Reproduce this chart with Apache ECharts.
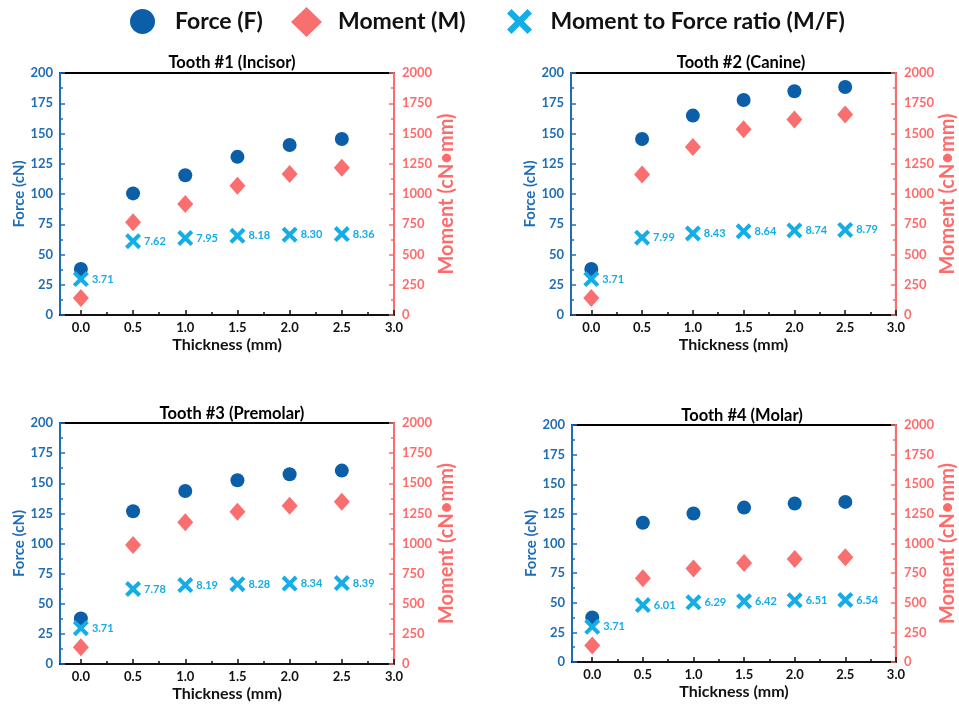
<!DOCTYPE html>
<html><head><meta charset="utf-8">
<script src="https://cdn.jsdelivr.net/npm/echarts@6/dist/echarts.min.js"></script>
<style>html,body{margin:0;padding:0;background:#fff}#c{width:959px;height:705px}</style>
</head><body><div id="c"></div>
<script>
const thickness = [0, 0.5, 1.0, 1.5, 2.0, 2.5];
const titles = ['Tooth #1 (Incisor)', 'Tooth #2 (Canine)', 'Tooth #3 (Premolar)', 'Tooth #4 (Molar)'];
const force1 = [38, 100.5, 115.5, 130.7, 140.5, 145.5];
const moment1 = [141, 766, 918, 1069, 1166, 1216];
const ratio1 = [3.71, 7.62, 7.95, 8.18, 8.30, 8.36];
const force2 = [38, 145.5, 164.8, 177.7, 184.9, 188.4];
const moment2 = [141, 1162, 1388, 1535, 1616, 1656];
const ratio2 = [3.71, 7.99, 8.43, 8.64, 8.74, 8.79];
const force3 = [37.8, 126.8, 143.6, 152.5, 157.5, 160.5];
const moment3 = [140, 987, 1176, 1263, 1313, 1347];
const ratio3 = [3.71, 7.78, 8.19, 8.28, 8.34, 8.39];
const force4 = [37.6, 117.5, 125.3, 130.3, 133.7, 135.1];
const moment4 = [139, 707, 789, 836, 870, 885];
const ratio4 = [3.71, 6.01, 6.29, 6.42, 6.51, 6.54];
const xMajor = [0, 0.5, 1.0, 1.5, 2.0, 2.5, 3.0];
const xMinor = [0.25, 0.75, 1.25, 1.75, 2.25, 2.75];
const seriesNames = ['Force (F)', 'Moment (M)', 'Moment to Force ratio (M/F)'];

const forces = [force1, force2, force3, force4];
const moments = [moment1, moment2, moment3, moment4];
const ratios = [ratio1, ratio2, ratio3, ratio4];

const FONT = 'Lato';
const cForce = '#0b5ea8', cAxisL = '#1f6db5', cMoment = '#f96f6f', cAxisR = '#ff6b6b', cRatio = '#14ade6';
const xPath = 'path://M0,1.8 L1.8,0 L5,3.2 L8.2,0 L10,1.8 L6.8,5 L10,8.2 L8.2,10 L5,6.8 L1.8,10 L0,8.2 L3.2,5 Z';

const gridPos = [
  {left: 60, right: 565, top: 73, bottom: 390},
  {left: 571, right: 57, top: 73, bottom: 390},
  {left: 60, right: 565, top: 423, bottom: 41},
  {left: 572, right: 56, top: 425, bottom: 43}
];
const titlePos = [[227, 49], [736, 49], [227, 400], [737, 402]];

const grid = [], xAxis = [], yAxis = [], series = [], title = [];
gridPos.forEach((g, i) => {
  grid.push(Object.assign({show: true, borderColor: '#000', borderWidth: 2, backgroundColor: 'transparent', containLabel: false}, g));
  title.push({text: titles[i], left: titlePos[i][0], top: titlePos[i][1], textAlign: 'center',
    textStyle: {fontFamily: FONT, fontWeight: 'bold', fontSize: 16.5, color: '#000'}});
  xAxis.push({type: 'value', gridIndex: i, min: -0.2, max: 3.0, position: 'bottom',
    name: 'Thickness (mm)', nameLocation: 'middle', nameGap: 22,
    nameTextStyle: {fontFamily: FONT, fontWeight: 'bold', fontSize: 16, color: '#111'},
    axisLine: {show: true, lineStyle: {color: '#111', width: 2}},
    axisTick: {show: true, inside: true, length: 5, customValues: xMajor, lineStyle: {color: '#111', width: 1.5}},
    axisLabel: {customValues: xMajor, formatter: v => v.toFixed(1), fontFamily: FONT, fontWeight: 'bold', fontSize: 13, color: '#111', margin: 6},
    splitLine: {show: false}});
  xAxis.push({type: 'value', gridIndex: i, min: -0.2, max: 3.0, position: 'bottom',
    axisLine: {show: false},
    axisTick: {show: true, inside: true, length: 3, customValues: xMinor, lineStyle: {color: '#111', width: 1.5}},
    axisLabel: {show: false}, splitLine: {show: false}});
  yAxis.push({type: 'value', gridIndex: i, min: 0, max: 200, interval: 25, position: 'left',
    name: 'Force (cN)', nameLocation: 'middle', nameGap: 33,
    nameTextStyle: {fontFamily: FONT, fontWeight: 'bold', fontSize: 15, color: cAxisL},
    axisLine: {show: true, onZero: false, lineStyle: {color: cAxisL, width: 2}},
    axisTick: {show: true, inside: true, length: 5, lineStyle: {color: cAxisL, width: 1.5}},
    minorTick: {show: true, splitNumber: 2, length: 3, lineStyle: {color: cAxisL, width: 1.5}},
    axisLabel: {fontFamily: FONT, fontWeight: 'bold', fontSize: 13, color: cAxisL, margin: 7},
    splitLine: {show: false}, minorSplitLine: {show: false}});
  yAxis.push({type: 'value', gridIndex: i, min: 0, max: 2000, interval: 250, position: 'right',
    name: 'Moment (cN\u2022mm)', nameLocation: 'middle', nameGap: 41,
    nameTextStyle: {fontFamily: FONT, fontWeight: 'bold', fontSize: 20, color: cAxisR},
    axisLine: {show: true, onZero: false, lineStyle: {color: cAxisR, width: 2}},
    axisTick: {show: true, inside: true, length: 5, lineStyle: {color: cAxisR, width: 1.5}},
    minorTick: {show: true, splitNumber: 2, length: 3, lineStyle: {color: cAxisR, width: 1.5}},
    axisLabel: {formatter: v => String(v), fontFamily: FONT, fontWeight: 'bold', fontSize: 13, color: cAxisR, margin: 8},
    splitLine: {show: false}, minorSplitLine: {show: false}});
  yAxis.push({type: 'value', gridIndex: i, min: 0, max: 25, show: false, splitLine: {show: false}});

  series.push({name: seriesNames[0], type: 'scatter', xAxisIndex: i * 2, yAxisIndex: i * 3,
    symbol: 'circle', symbolSize: 14, itemStyle: {color: cForce, opacity: 1},
    data: thickness.map((t, k) => [t, forces[i][k]])});
  series.push({name: seriesNames[1], type: 'scatter', xAxisIndex: i * 2, yAxisIndex: i * 3 + 1,
    symbol: 'diamond', symbolSize: [16, 18], itemStyle: {color: cMoment, opacity: 1},
    data: thickness.map((t, k) => [t, moments[i][k]])});
  series.push({name: seriesNames[2], type: 'scatter', xAxisIndex: i * 2, yAxisIndex: i * 3 + 2,
    symbol: xPath, symbolSize: 16, itemStyle: {color: cRatio, opacity: 1},
    label: {show: true, position: 'right', distance: 3, formatter: p => p.value[1].toFixed(2),
      fontFamily: FONT, fontWeight: 'bold', fontSize: 11, color: cRatio},
    data: thickness.map((t, k) => [t, ratios[i][k]])});
});

const legendText = pad => ({fontFamily: FONT, fontWeight: 'bold', fontSize: 23, color: '#111', padding: [0, 0, 0, pad]});
const legend = [
  {left: 125, top: 4, itemWidth: 25, itemHeight: 25, textStyle: legendText(15),
    data: [{name: seriesNames[0], icon: 'circle'}]},
  {left: 286, top: 2, itemWidth: 31, itemHeight: 30, textStyle: legendText(11),
    data: [{name: seriesNames[1], icon: 'diamond'}]},
  {left: 502, top: 4, itemWidth: 28, itemHeight: 25, textStyle: legendText(12),
    data: [{name: seriesNames[2], icon: xPath}]}
];

const chart = echarts.init(document.getElementById('c'), null, {renderer: 'canvas'});
chart.setOption({
  animation: false,
  title, legend, grid, xAxis, yAxis, series
});
</script></body></html>
